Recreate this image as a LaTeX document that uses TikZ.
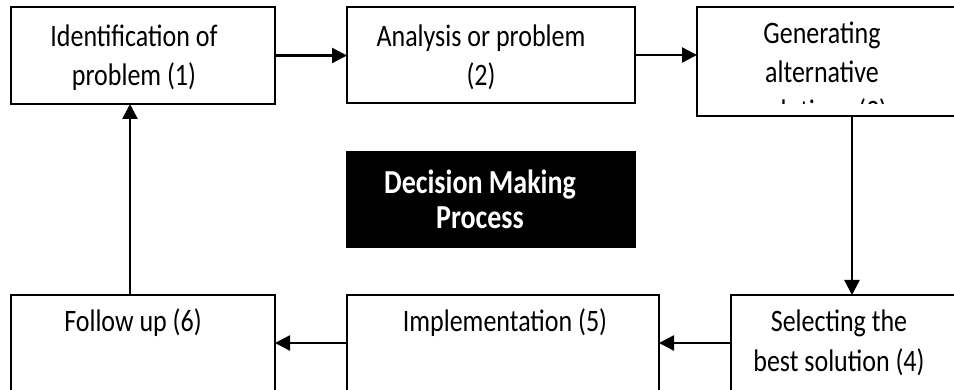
\documentclass[tikz,border=0pt]{standalone}
\usepackage{fontspec}
\setmainfont{Carlito}
\usepackage{graphicx}
\usetikzlibrary{arrows.meta}

\newcommand\boxtext[1]{\scalebox{1}[1.2]{\begin{tabular}[t]{@{}c@{}}#1\end{tabular}}}

\tikzset{
    stepbox/.style = {draw = black, line width = 2.4pt, inner sep = 0pt, outer sep = 0pt, anchor = north west},
    flow/.style = {black, line width = 2.4pt, -{Triangle[length = 15pt, width = 15pt]}},
    lbl/.style = {inner sep = 0pt, anchor = base, font = \fontsize{26}{32.5}\selectfont}
}

\begin{document}
\begin{tikzpicture}[x = 1pt, y = -1pt]
    \clip (0, 0) rectangle (954, 390);
    \fill[white] (0, 0) rectangle (954, 390);
    % boxes
    \node[stepbox, minimum width = 264pt, minimum height = 97pt] (b1) at (11, 7) {};
    \node[stepbox, minimum width = 288pt, minimum height = 96pt] (b2) at (347, 7) {};
    \node[stepbox, minimum width = 300pt, minimum height = 109pt] (b3) at (697, 7) {};
    \node[stepbox, minimum width = 280pt, minimum height = 130pt] (b4) at (731, 295) {};
    \node[stepbox, minimum width = 312pt, minimum height = 130pt] (b5) at (347, 295) {};
    \node[stepbox, minimum width = 264pt, minimum height = 130pt] (b6) at (11, 295) {};
    \node[fill = black, inner sep = 0pt, anchor = north west, minimum width = 290pt, minimum height = 97pt] (dm) at (346, 151) {};
    % texts
    \node[lbl] (t1) at (134, 47) {\boxtext{Identification of\\problem (1)}};
    \node[lbl] (t2) at (481, 47) {\boxtext{Analysis or problem\\(2)}};
    \scope
        \clip (697, 7) rectangle (954, 104);
        \node[lbl] (t3) at (822, 44) {\boxtext{Generating\\alternative\\solutions (3)}};
    \endscope
    \node[lbl] (t4) at (839, 332) {\boxtext{Selecting the\\best solution (4)}};
    \node[lbl] (t5) at (505, 331) {\boxtext{Implementation (5)}};
    \node[lbl] (t6) at (133, 332) {\boxtext{Follow up (6)}};
    \node[lbl, text = white, font = \fontsize{28}{29}\selectfont\bfseries] (tdm) at (480, 194) {\boxtext{Decision Making\\Process}};
    % arrows
    \draw[flow] (b1.east) -- (b2.west |- b1.east);
    \draw[flow] (b2.east) -- (b3.west |- b2.east);
    \draw[flow] ([xshift = 155pt]b3.south west) -- ([xshift = 121pt]b4.north west);
    \draw[flow] ([yshift = -48pt]b4.north west) -- ([yshift = -48pt]b5.north east);
    \draw[flow] ([yshift = -48pt]b5.north west) -- ([yshift = -48pt]b6.north east);
    \draw[flow] ([xshift = 119pt]b6.north west) -- ([xshift = 119pt]b1.south west);
\end{tikzpicture}
\end{document}
